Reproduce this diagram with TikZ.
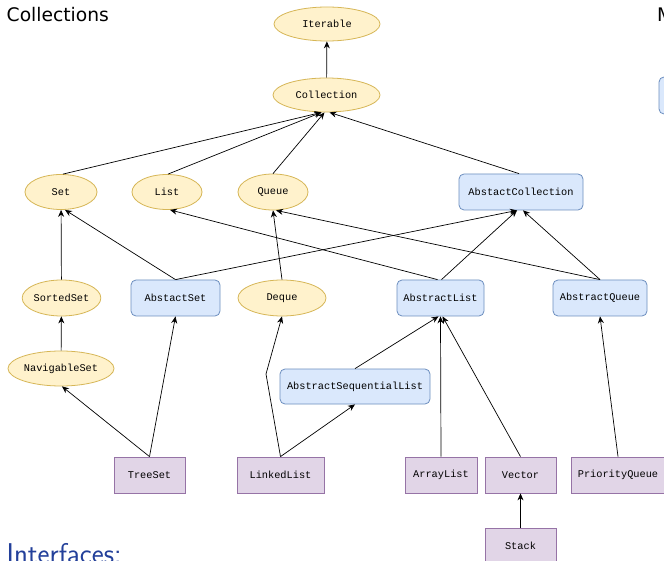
\documentclass[tikz,border=0pt]{standalone}
\usepackage{fontspec}
\newfontfamily\monof{Liberation Mono}
\newfontfamily\dejavu{DejaVu Sans}
\usetikzlibrary{shapes.geometric,arrows.meta}
\definecolor{ifill}{HTML}{FFF2CC}
\definecolor{istroke}{HTML}{D6B656}
\definecolor{afill}{HTML}{DAE8FC}
\definecolor{astroke}{HTML}{6C8EBF}
\definecolor{cfill}{HTML}{E1D5E7}
\definecolor{cstroke}{HTML}{9673A6}
\definecolor{titleblue}{HTML}{23409A}
\begin{document}
\begin{tikzpicture}[x=1pt,y=-1pt,
  lbl/.style={inner sep=0pt, font=\monof\fontsize{10.3}{12}\selectfont},
  iface/.style={lbl, ellipse, draw=istroke, fill=ifill, line width=0.8pt},
  absbox/.style={lbl, rectangle, rounded corners=5pt, draw=astroke, fill=afill, line width=0.8pt},
  clsbox/.style={lbl, rectangle, draw=cstroke, fill=cfill, line width=0.8pt},
  edge/.style={draw=black, line width=0.7pt, -{Stealth[length=7pt,width=6pt]}}
]
\useasboundingbox (0,0) rectangle (664,561);
\begin{scope}
\clip (0,0) rectangle (664,561);
\fill[white] (0,0) rectangle (664,561);

\node[anchor=base west, inner sep=0pt, font=\dejavu\fontsize{18.7}{22}\selectfont] (title) at (6.5,22) {Collections};
\node[anchor=base west, inner sep=0pt, font=\dejavu\fontsize{18.7}{22}\selectfont] (mtitle) at (657,22) {M};
\node[anchor=base west, inner sep=0pt, text=titleblue, font=\sffamily\fontsize{28.6}{32}\selectfont] (ifaces) at (6.5,563) {Interfaces:};
\node[absbox, minimum width=82pt, minimum height=37pt] (mbox) at (700,95.5) {};

\node[iface, minimum width=106pt, minimum height=34pt] (iter) at (327,24) {Iterable};
\node[iface, minimum width=107pt, minimum height=34pt] (coll) at (326.5,95) {Collection};
\node[iface, minimum width=72pt, minimum height=35pt] (set) at (61,192) {Set};
\node[iface, minimum width=70pt, minimum height=35pt] (list) at (167,192) {List};
\node[iface, minimum width=70pt, minimum height=36pt] (queue) at (273,192) {Queue};
\node[absbox, minimum width=124pt, minimum height=36pt] (acoll) at (521,192) {AbstactCollection};
\node[iface, minimum width=71pt, minimum height=36pt] (sorted) at (61.5,298) {SortedSet};
\node[absbox, minimum width=89pt, minimum height=36pt] (aset) at (175.5,298) {AbstactSet};
\node[iface, minimum width=88pt, minimum height=36pt] (deque) at (282,298) {Deque};
\node[absbox, minimum width=87pt, minimum height=36pt] (alist) at (440.5,298) {AbstractList};
\node[absbox, minimum width=94pt, minimum height=36pt] (aqueue) at (600,298) {AbstractQueue};
\node[iface, minimum width=106pt, minimum height=35pt] (nav) at (61,368.5) {NavigableSet};
\node[absbox, minimum width=150pt, minimum height=35pt] (aseq) at (355,386.5) {AbstractSequentialList};
\node[clsbox, minimum width=71pt, minimum height=36pt] (treeset) at (149.5,475) {TreeSet};
\node[clsbox, minimum width=87pt, minimum height=36pt] (linked) at (280.5,475) {LinkedList};
\node[clsbox, minimum width=72pt, minimum height=36pt] (arrayl) at (441,475) {ArrayList};
\node[clsbox, minimum width=71pt, minimum height=36pt] (vector) at (520.5,475) {Vector};
\node[clsbox, minimum width=94pt, minimum height=36pt] (pq) at (618,475) {PriorityQueue};
\node[clsbox, minimum width=71pt, minimum height=36pt] (stack) at (520.5,546) {Stack};
\coordinate (wp) at (266,374);

\draw[edge] (coll) -- (iter);
\draw[edge] ([xshift=2pt]set.north) -- ([xshift=-5pt]coll.south);
\draw[edge] ([xshift=1pt]list.north) -- ([xshift=-5pt]coll.south);
\draw[edge] (queue.north) -- ([xshift=-2pt]coll.south);
\draw[edge] ([xshift=-2pt]acoll.north) -- ([xshift=3pt]coll.south);
\draw[edge] (sorted) -- (set);
\draw[edge] (aset.north) -- ([xshift=4pt]set.south);
\draw[edge] (aset.north) -- ([xshift=-4pt]acoll.south);
\draw[edge] (deque.north) -- (queue.south);
\draw[edge] ([xshift=-3pt]alist.north) -- ([xshift=3pt]list.south);
\draw[edge] ([xshift=1pt]alist.north) -- ([xshift=-4pt]acoll.south);
\draw[edge] (aqueue.north) -- ([xshift=2pt]acoll.south);
\draw[edge] (aqueue.north) -- ([xshift=3pt]queue.south);
\draw[edge] (nav) -- (sorted);
\draw[edge] (treeset.north) -- ([xshift=1pt]nav.south);
\draw[edge] (treeset.north) -- (aset.south);
\draw[edge] (linked.north) -- (wp) -- (deque.south);
\draw[edge] (linked.north) -- (aseq.south);
\draw[edge] (aseq.north) -- ([xshift=-2pt]alist.south);
\draw[edge] (arrayl.north) -- (alist.south);
\draw[edge] (vector.north) -- ([xshift=2pt]alist.south);
\draw[edge] (stack) -- (vector);
\draw[edge] (pq.north) -- (aqueue.south);
\end{scope}
\end{tikzpicture}
\end{document}
